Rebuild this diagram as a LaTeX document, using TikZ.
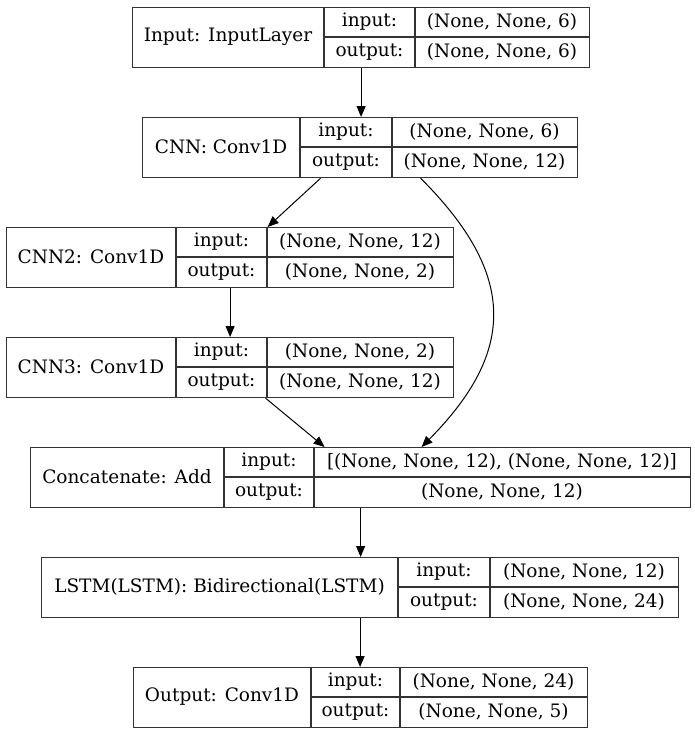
\documentclass[tikz,border=0pt]{standalone}
\usepackage{fontspec}
\setmainfont{DejaVu Serif}
\usepackage{tikz}
\usetikzlibrary{calc}
\usetikzlibrary{arrows.meta}
\usetikzlibrary{positioning}
\tikzset{
	layer/.style={draw=black!80, line width=1.2pt, rectangle, inner sep=0pt},
	layerline/.style={draw=black!80, line width=1.2pt},
	edge/.style={draw=black, line width=1pt, -{Triangle[length=11pt,width=9pt]}},
	every node/.style={font=\fontsize{18.5pt}{22pt}\selectfont}
}
% #1 name, #2 left, #3 first divider, #4 second divider, #5 right, #6 top
% #7 layer text, #8 input shape, #9 output shape
\newcommand{\layerBox}[9]{%
		\node [layer, anchor=north west, minimum width={(#5-#2)*1pt}, minimum height=60pt] (#1) at (#2,#6) {};
		\draw [layerline] (#3,#6) -- (#3,{#6+60});
		\draw [layerline] (#4,#6) -- (#4,{#6+60});
		\draw [layerline] (#3,{#6+30}) -- (#5,{#6+30});
		\node (#1-name) at ({(#2+#3)/2},{#6+30}) {#7};
		\node (#1-in) at ({(#3+#4)/2},{#6+15}) {input:};
		\node (#1-out) at ({(#3+#4)/2},{#6+45}) {output:};
		\node (#1-inval) at ({(#4+#5)/2},{#6+15}) {#8};
		\node (#1-outval) at ({(#4+#5)/2},{#6+45}) {#9};
}
\begin{document}
\begin{tikzpicture}[x=1pt, y=-1pt]
	\useasboundingbox (0,0) rectangle (695,737);
	
		\layerBox{input}{132}{324}{415}{589}{7}{Input: InputLayer}{(None, None, 6)}{(None, None, 6)}
		\layerBox{cnn}{142}{300}{392}{577}{117}{CNN: Conv1D}{(None, None, 6)}{(None, None, 12)}
		\layerBox{cnntwo}{6}{176}{267}{453}{227}{CNN2: Conv1D}{(None, None, 12)}{(None, None, 2)}
		\layerBox{cnnthree}{6}{176}{267}{453}{337}{CNN3: Conv1D}{(None, None, 2)}{(None, None, 12)}
		\layerBox{concat}{30}{224}{314}{690}{447}{Concatenate: Add}{[(None, None, 12), (None, None, 12)]}{(None, None, 12)}
		\layerBox{lstm}{41}{398}{490}{678}{557}{LSTM(LSTM): Bidirectional(LSTM)}{(None, None, 12)}{(None, None, 24)}
		\layerBox{output}{133}{311}{400}{587}{667}{Output: Conv1D}{(None, None, 24)}{(None, None, 5)}
		
		\draw [edge] (input.south) -- (input.south |- cnn.north);
		\draw [edge] ([xshift=-39.5pt]cnn.south) -- ([xshift=37.5pt]cnntwo.north);
		\draw [edge] ([xshift=60.5pt]cnn.south) .. controls +(96pt,-96pt) and +(95pt,96pt) .. ([xshift=61pt]concat.north);
		\draw [edge] (cnntwo.south) -- (cnnthree.north);
		\draw [edge] ([xshift=35.5pt]cnnthree.south) -- ([xshift=-36pt]concat.north);
		\draw [edge] (concat.south) -- (concat.south |- lstm.north);
		\draw [edge] (lstm.south) -- (lstm.south |- output.north);
	\end{tikzpicture}
\end{document}
